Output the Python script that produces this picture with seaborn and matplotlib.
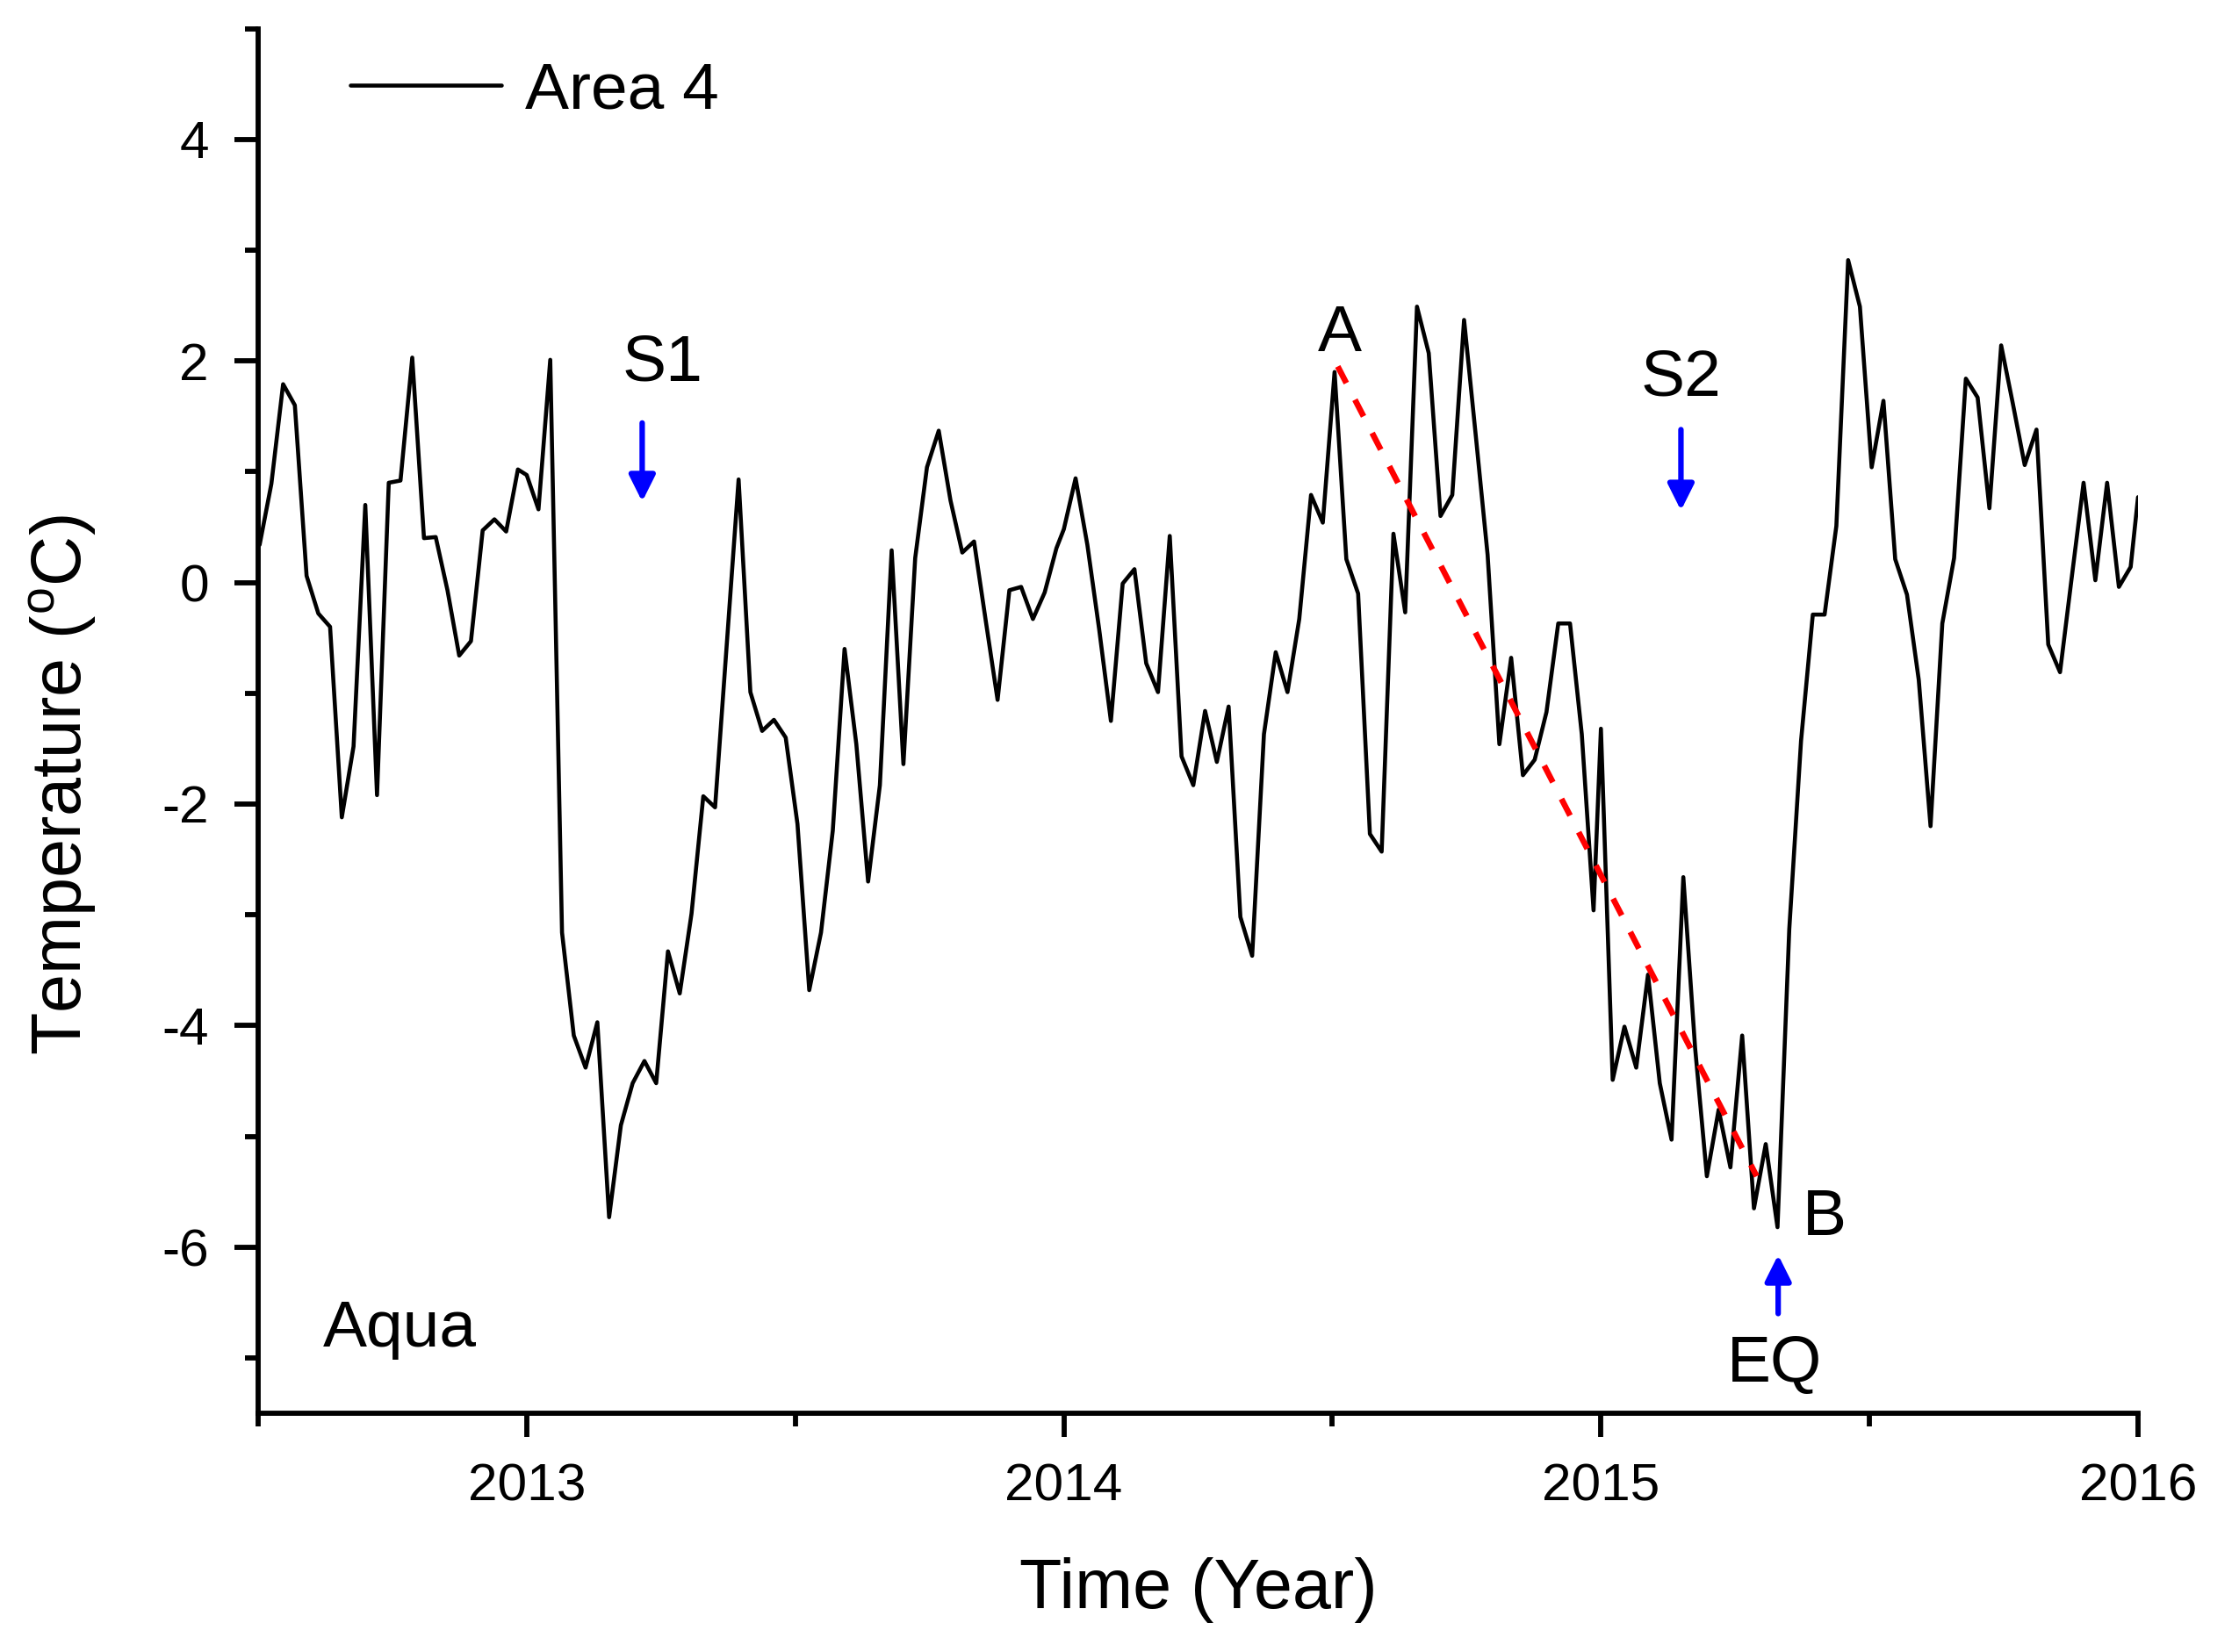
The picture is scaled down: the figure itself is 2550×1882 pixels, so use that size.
import numpy as np
import seaborn as sns
import matplotlib.pyplot as plt
from matplotlib.ticker import FixedLocator

# =============================================================================
# Data (8-day composites, Area 4, Aqua)
# =============================================================================

temp_2012 = [0.34, 0.89, 1.79, 1.60, 0.06, -0.28, -0.40, -2.12, -1.48, 0.70,
             -1.92, 0.90, 0.92, 2.03, 0.40, 0.41, -0.07, -0.66, -0.53, 0.47,
             0.57, 0.46, 1.02]
temp_2013 = [0.97, 0.66, 2.01, -3.16, -4.09, -4.38, -3.97, -5.73, -4.90, -4.52,
             -4.32, -4.52, -3.33, -3.71, -2.99, -1.93, -2.03, -0.55, 0.93, -0.99,
             -1.34, -1.24, -1.40, -2.18, -3.68, -3.16, -2.24, -0.60, -1.46, -2.70,
             -1.83, 0.29, -1.64, 0.22, 1.04, 1.37, 0.74, 0.27, 0.37, -0.35,
             -1.06, -0.07, -0.04, -0.33, -0.09, 0.31]
temp_2014 = [0.48, 0.94, 0.34, -0.42, -1.25, -0.01, 0.12, -0.73, -0.99, 0.42,
             -1.57, -1.83, -1.16, -1.62, -1.12, -3.02, -3.37, -1.37, -0.63, -0.99,
             -0.33, 0.79, 0.54, 1.90, 0.21, -0.10, -2.27, -2.43, 0.44, -0.27,
             2.49, 2.07, 0.60, 0.79, 2.37, 1.32, 0.25, -1.46, -0.68, -1.74,
             -1.60, -1.17, -0.37, -0.37, -1.37, -2.96]
temp_2015 = [-1.32, -4.49, -4.01, -4.38, -3.54, -4.52, -5.03, -2.66, -4.20, -5.36,
             -4.76, -5.28, -4.09, -5.65, -5.07, -5.82, -3.13, -1.43, -0.29, -0.29,
             0.51, 2.91, 2.49, 1.04, 1.64, 0.21, -0.11, -0.88, -2.20, -0.37,
             0.22, 1.84, 1.67, 0.67, 2.14, 1.61, 1.06, 1.38, -0.56, -0.81,
             0.05, 0.90, 0.02, 0.90, -0.04, 0.14]
temp_2016 = [0.77]

# first day-of-year of the composites in each year
first_doy = {2012: 185, 2013: 1, 2014: 1, 2015: 1, 2016: 1}
series = {2012: temp_2012, 2013: temp_2013, 2014: temp_2014,
          2015: temp_2015, 2016: temp_2016}

# trend line A -> B
trend_x = [2014.51, 2015.29]
trend_y = [1.95, -5.36]

# =============================================================================
# Build x as decimal years
# =============================================================================

x, y = [], []
for yr, vals in series.items():
    ndays = 366 if yr % 4 == 0 else 365
    for i, v in enumerate(vals):
        doy = first_doy[yr] + 8 * i
        x.append(yr + (doy - 1) / ndays)
        y.append(v)

# =============================================================================
# Plot
# =============================================================================

sns.set_style("ticks", {"axes.edgecolor": "black", "text.color": "black",
                        "xtick.color": "black", "ytick.color": "black",
                        "axes.labelcolor": "black"})
plt.rcParams['font.family'] = ['Liberation Sans', 'DejaVu Sans']
plt.rcParams['mathtext.fontset'] = 'custom'
plt.rcParams['mathtext.rm'] = 'Liberation Sans'
plt.rcParams['axes.unicode_minus'] = False

fig = plt.figure(figsize=(8.5, 1882 / 300), dpi=300)
ax = fig.add_axes([0.1153, 0.1445, 0.8396, 0.8382])

sns.lineplot(x=x, y=y, ax=ax, color='black', lw=1.1, label='Area 4')
ax.plot(trend_x, trend_y, color='red', lw=1.6, linestyle=(0, (3.2, 3.2)))

ax.set_xlim(2012.5, 2016)
ax.set_ylim(-7.5, 5)
ax.xaxis.set_major_locator(FixedLocator([2013, 2014, 2015, 2016]))
ax.xaxis.set_minor_locator(FixedLocator([2012.5, 2013.5, 2014.5, 2015.5]))
ax.set_xticklabels(['2013', '2014', '2015', '2016'])
ax.yaxis.set_major_locator(FixedLocator([-6, -4, -2, 0, 2, 4]))
ax.yaxis.set_minor_locator(FixedLocator([-7, -5, -3, -1, 1, 3, 5]))

sns.despine(ax=ax)
for sp in ['left', 'bottom']:
    ax.spines[sp].set_linewidth(1.4)
ax.tick_params(which='major', direction='out', length=6.5, width=1.4,
               labelsize=14.5, pad=7, colors='black')
ax.tick_params(which='minor', direction='out', length=3.5, width=1.4,
               colors='black')

ax.set_xlabel("Time (Year)", fontsize=19, color='black')
ax.set_ylabel(r"Temperature ($^{\mathrm{o}}$C)", fontsize=19, color='black')
ax.xaxis.set_label_coords(0.5, -0.104)
ax.yaxis.set_label_coords(-0.085, 0.454)

# annotations
fs = 18
ax.text(2013.252, 1.98, "S1", fontsize=fs, ha='center', va='center')
ax.text(2014.514, 2.24, "A", fontsize=fs, ha='center', va='center')
ax.text(2015.149, 1.84, "S2", fontsize=fs, ha='center', va='center')
ax.text(2015.417, -5.74, "B", fontsize=fs, ha='center', va='center')
ax.text(2015.324, -7.06, "EQ", fontsize=fs, ha='center', va='center')
ax.text(2012.62, -6.74, "Aqua", fontsize=fs, ha='left', va='center')

arrow = dict(arrowstyle='-|>', color='blue', lw=1.5, mutation_scale=15,
             shrinkA=0, shrinkB=0)
ax.annotate('', xy=(2013.215, 0.73), xytext=(2013.215, 1.44), arrowprops=arrow)
ax.annotate('', xy=(2015.149, 0.65), xytext=(2015.149, 1.38), arrowprops=arrow)
ax.annotate('', xy=(2015.33, -6.07), xytext=(2015.33, -6.60), arrowprops=arrow)

ax.legend(loc='center left', bbox_to_anchor=(0.049, 0.955), frameon=False,
          fontsize=18, handlelength=2.3, handletextpad=0.35, borderpad=0,
          borderaxespad=0)

plt.savefig("out.png", dpi=300)
plt.close()
